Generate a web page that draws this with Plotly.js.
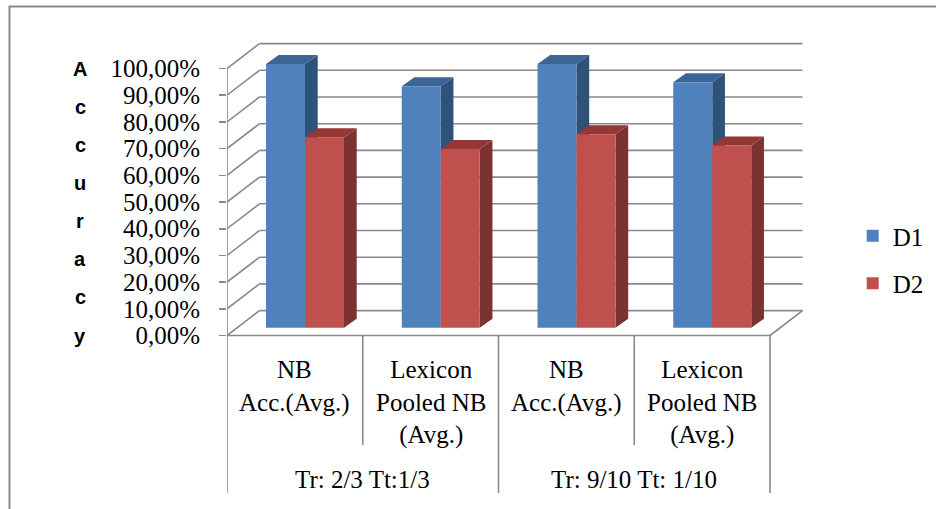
<!DOCTYPE html>
<html><head><meta charset="utf-8">
<script src="https://cdn.plot.ly/plotly-3.0.1.min.js"></script>
<style>html,body{margin:0;padding:0;background:#fff}#chart{width:936px;height:509px}</style>
</head><body><div id="chart"></div>
<script>
// ---- data ----
const groups = ["Tr: 2/3 Tt:1/3", "Tr: 9/10 Tt: 1/10"];
const categories = ["NB<br>Acc.(Avg.)", "Lexicon<br>Pooled NB<br>(Avg.)", "NB<br>Acc.(Avg.)", "Lexicon<br>Pooled NB<br>(Avg.)"];
const seriesNames = ["D1", "D2"];
const d1 = [0.988, 0.904, 0.988, 0.919];
const d2 = [0.713, 0.669, 0.725, 0.682];
const yTicks = [0, 0.1, 0.2, 0.3, 0.4, 0.5, 0.6, 0.7, 0.8, 0.9, 1.0];
const titleLetters = ["A", "c", "c", "u", "r", "a", "c", "y"];

// ---- geometry / style (pseudo 3-D projection) ----
const ML = 227, MR = 106, MT = 30, MB = 9;
const PW = 936 - ML - MR, PH = 509 - MT - MB;
const CW = 135.75, VH = 267, Y0PX = 335.5;
const xRange = [0, PW / CW];
const yRange = [-(509 - MB - Y0PX) / VH, (Y0PX - MT) / VH];
const WDX = 32.5 / CW, WDY = 0.0933;        // wall depth offset
const BW = 39 / CW, BASE = 0.0292;           // bar width, bar base (depth)
const BDX = 12.7 / CW, BDY = 9 / VH;         // bar depth offset
const offs = [-0.2127, 0.0746];
const frontCols = ["#4F81BD", "#C0504D"];
const sideCols = ["#2F5279", "#7C3230"];
const topCols = ["#3C6595", "#943735"];
const gridCol = "#898989";
const serif = "Liberation Serif, Times New Roman, serif";
const px2paperX = p => (p - ML) / PW;
const px2paperY = p => (509 - MB - p) / PH;

const nCat = categories.length;
const xs = categories.map((c, i) => i + 0.5);
const series = [d1, d2];

function facePolys(vals, s) {
  const sx = [], sy = [], tx = [], ty = [];
  vals.forEach((v, i) => {
    const x0 = xs[i] + offs[s], x1 = x0 + BW, b = BASE, t = BASE + v;
    sx.push(x1, x1 + BDX, x1 + BDX, x1, null);
    sy.push(b, b + BDY, t + BDY, t, null);
    tx.push(x0, x1, x1 + BDX, x0 + BDX, null);
    ty.push(t, t, t + BDY, t + BDY, null);
  });
  return {sx, sy, tx, ty};
}

const traces = [];
series.forEach((vals, s) => {
  const p = facePolys(vals, s);
  traces.push({type: "scatter", x: p.sx, y: p.sy, fill: "toself", fillcolor: sideCols[s],
    mode: "lines", line: {width: 0}, showlegend: false, hoverinfo: "skip", zorder: 2 * s});
  traces.push({type: "scatter", x: p.tx, y: p.ty, fill: "toself", fillcolor: topCols[s],
    mode: "lines", line: {width: 0}, showlegend: false, hoverinfo: "skip", zorder: 2 * s});
  traces.push({type: "bar", name: seriesNames[s], x: xs, y: vals, base: BASE,
    width: BW, offset: offs[s], marker: {color: frontCols[s], line: {width: 0}},
    legendgroup: "g" + s, hoverinfo: "skip", zorder: 2 * s + 1});
});

// ---- walls, floor, category axis ----
const shapes = [];
const L = (x0, y0, x1, y1, extra) => shapes.push(Object.assign({type: "line", xref: "x", yref: "y",
  x0, y0, x1, y1, layer: "below", line: {color: gridCol, width: 1.6}}, extra || {}));
yTicks.forEach(v => {
  L(WDX, v + WDY, nCat + WDX, v + WDY);   // back wall gridline
  L(0, v, WDX, v + WDY);                    // side wall gridline
});
L(0, 0, 0, yTicks[yTicks.length - 1]);      // front-left edge (value axis)
L(0, 0, nCat, 0);                           // floor front edge
L(nCat, 0, nCat + WDX, WDY);                // floor right edge
const innerBottom = -(445 - Y0PX) / VH, outerBottom = -(493 - Y0PX) / VH;
for (let i = 0; i <= nCat; i++) {
  L(i, 0, i, i % 2 === 0 ? outerBottom : innerBottom);
}
// chart border
shapes.push({type: "rect", xref: "paper", yref: "paper", x0: px2paperX(9.5), x1: px2paperX(960),
  y0: px2paperY(530), y1: px2paperY(6.5), line: {color: gridCol, width: 2}, layer: "below"});

// ---- annotations ----
const annotations = [];
categories.forEach((c, i) => annotations.push({xref: "x", yref: "y", x: xs[i], y: -(354 - Y0PX) / VH,
  text: c, showarrow: false, yanchor: "top", xanchor: "center", font: {family: serif, size: 25, color: "#000"}}));
groups.forEach((g, k) => annotations.push({xref: "x", yref: "y", x: 2 * k + 1, y: -(479 - Y0PX) / VH,
  text: g, showarrow: false, yanchor: "middle", xanchor: "center", font: {family: serif, size: 25, color: "#000"}}));
titleLetters.forEach((ch, i) => annotations.push({xref: "paper", yref: "y", x: px2paperX(80),
  y: 1 - i / (titleLetters.length - 1), text: ch, showarrow: false, yanchor: "middle", xanchor: "center",
  font: {family: "Liberation Sans, Arial, sans-serif", size: 20, color: "#000", weight: "bold"}}));

const layout = {
  width: 936, height: 509,
  margin: {l: ML, r: MR, t: MT, b: MB, autoexpand: false},
  paper_bgcolor: "#fff", plot_bgcolor: "rgba(0,0,0,0)",
  separators: ", ",
  barmode: "overlay",
  showlegend: true,
  legend: {x: px2paperX(852.7), y: px2paperY(259.5), xanchor: "left", yanchor: "middle",
    font: {family: serif, size: 25, color: "#000"}, tracegroupgap: 12, bgcolor: "rgba(0,0,0,0)"},
  xaxis: {range: xRange, visible: false, fixedrange: true},
  yaxis: {range: yRange, tickvals: yTicks, tickformat: ".2%", showgrid: false, zeroline: false,
    showline: false, ticks: "outside", ticklen: 7, tickwidth: 1.6, tickcolor: gridCol,
    ticklabelstandoff: 14, tickfont: {family: serif, size: 25, color: "#000"}, fixedrange: true},
  shapes, annotations
};
Plotly.newPlot("chart", traces, layout, {staticPlot: true, displayModeBar: false});
</script>
</body></html>
